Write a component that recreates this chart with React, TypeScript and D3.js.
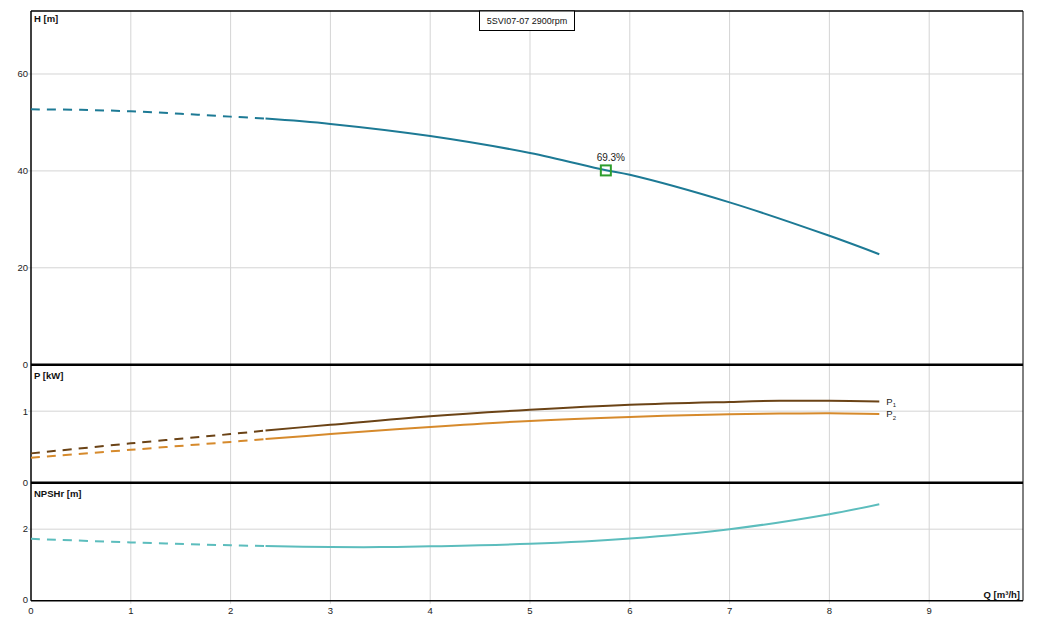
import React from "react";
import * as d3 from "d3";

// ---- data ----
const xTicks = [0, 1, 2, 3, 4, 5, 6, 7, 8, 9];
const hTicks = [0, 20, 40, 60];
const pTicks = [0, 1];
const nTicks = [0, 2];

const qH = [0, 0.5, 1, 1.5, 2, 2.35, 3, 4, 5, 5.75, 6, 7, 8, 8.5];
const headH = [52.7, 52.6, 52.3, 51.8, 51.2, 50.8, 49.7, 47.2, 43.7, 40.2, 39.2, 33.5, 26.6, 22.8];

const qP = [0, 1, 2, 2.35, 3, 4, 5, 6, 7, 7.5, 8, 8.5];
const powerP1 = [0.41, 0.55, 0.68, 0.73, 0.81, 0.93, 1.02, 1.09, 1.13, 1.145, 1.145, 1.135];
const powerP2 = [0.35, 0.46, 0.57, 0.61, 0.68, 0.78, 0.864, 0.92, 0.958, 0.967, 0.972, 0.962];

const qN = [0, 1, 2, 2.35, 3, 3.5, 4, 5, 6, 7, 8, 8.5];
const npshR = [1.73, 1.63, 1.55, 1.53, 1.5, 1.5, 1.52, 1.59, 1.74, 2.0, 2.42, 2.7];

const solidFrom = 2.35;
const titleText = "5SVI07-07 2900rpm";
const bepQ = [5.76];
const bepH = [40.1];
const bepLabel = ["69.3%"];

// ---- layout ----
const W = 1044;
const H = 632;
const left = 31;
const right = 1023;
const top = 11;
const hBottom = 364.7;
const pBottom = 482.7;
const nBottom = 600.7;

const FONT = "'Liberation Sans', Arial, sans-serif";
const GRID = "#d4d4d4";
const C_H = "#1d7a95";
const C_P1 = "#6b4316";
const C_P2 = "#d68a2c";
const C_N = "#5cbdbd";

const x = d3.scaleLinear().domain([0, 9.94]).range([left, right]);
const yH = d3.scaleLinear().domain([0, 73]).range([hBottom, top]);
const yP = d3.scaleLinear().domain([0, 1.65]).range([pBottom, hBottom]);
const yN = d3.scaleLinear().domain([0, 3.3]).range([nBottom, pBottom]);

function split(qs: number[], vs: number[]) {
  const pts = qs.map((q, i) => [q, vs[i]] as [number, number]);
  return {
    dashed: pts.filter((p) => p[0] <= solidFrom),
    solid: pts.filter((p) => p[0] >= solidFrom),
  };
}

function Curve({ qs, vs, y, color }: { qs: number[]; vs: number[]; y: d3.ScaleLinear<number, number>; color: string }) {
  const { dashed, solid } = split(qs, vs);
  const line = d3
    .line<[number, number]>()
    .x((d) => x(d[0]))
    .y((d) => y(d[1]))
    .curve(d3.curveCatmullRom.alpha(0.5));
  return (
    <g fill="none" stroke={color} strokeWidth={2}>
      <path d={line(dashed) || ""} strokeDasharray="9,7" />
      <path d={line(solid) || ""} />
    </g>
  );
}

export default function App() {
  const tickStyle = { fontFamily: FONT, fontSize: 9.5, fill: "#222" } as const;
  const labelStyle = { fontFamily: FONT, fontSize: 9.5, fontWeight: 700, fill: "#111" } as const;
  const lastP = qP.length - 1;
  return (
    <div style={{ position: "absolute", left: 0, top: 0 }}>
      <svg width={W} height={H} style={{ display: "block", background: "#fff" }}>
        {/* vertical grid */}
        {xTicks.filter((t) => t > 0).map((t) => (
          <line key={"vx" + t} x1={x(t)} x2={x(t)} y1={top} y2={nBottom + 3} stroke={GRID} strokeWidth={1} />
        ))}
        {/* horizontal grid */}
        {hTicks.filter((t) => t > 0).map((t) => (
          <line key={"gh" + t} x1={left - 3} x2={right} y1={yH(t)} y2={yH(t)} stroke={GRID} strokeWidth={1} />
        ))}
        {pTicks.filter((t) => t > 0).map((t) => (
          <line key={"gp" + t} x1={left - 3} x2={right} y1={yP(t)} y2={yP(t)} stroke={GRID} strokeWidth={1} />
        ))}
        {nTicks.filter((t) => t > 0).map((t) => (
          <line key={"gn" + t} x1={left - 3} x2={right} y1={yN(t)} y2={yN(t)} stroke={GRID} strokeWidth={1} />
        ))}

        {/* frame */}
        <line x1={left} x2={right} y1={top} y2={top} stroke="#000" strokeWidth={1.5} />
        <line x1={left} x2={left} y1={top} y2={nBottom} stroke="#000" strokeWidth={1.5} />
        <line x1={right} x2={right} y1={top} y2={nBottom} stroke="#000" strokeWidth={1} />
        <line x1={left} x2={right} y1={hBottom} y2={hBottom} stroke="#000" strokeWidth={2.5} />
        <line x1={left} x2={right} y1={pBottom} y2={pBottom} stroke="#000" strokeWidth={2.5} />
        <line x1={left} x2={right} y1={nBottom} y2={nBottom} stroke="#000" strokeWidth={1.5} />

        {/* curves */}
        <Curve qs={qH} vs={headH} y={yH} color={C_H} />
        <Curve qs={qP} vs={powerP1} y={yP} color={C_P1} />
        <Curve qs={qP} vs={powerP2} y={yP} color={C_P2} />
        <Curve qs={qN} vs={npshR} y={yN} color={C_N} />

        {/* best efficiency point */}
        {bepQ.map((q, i) => (
          <g key={"bep" + i}>
            <rect x={x(q) - 5} y={yH(bepH[i]) - 5} width={10} height={10} fill="none" stroke="#2e9e2e" strokeWidth={2} />
            <text x={x(q) + 5} y={yH(bepH[i]) - 9} textAnchor="middle" style={{ fontFamily: FONT, fontSize: 10, fill: "#222" }}>
              {bepLabel[i]}
            </text>
          </g>
        ))}

        {/* P labels */}
        <text x={x(qP[lastP]) + 7} y={yP(powerP1[lastP])} dy="0.35em" style={{ fontFamily: FONT, fontSize: 9.5, fill: "#222" }}>
          P<tspan fontSize={6} dy={2.5}>1</tspan>
        </text>
        <text x={x(qP[lastP]) + 7} y={yP(powerP2[lastP])} dy="0.35em" style={{ fontFamily: FONT, fontSize: 9.5, fill: "#222" }}>
          P<tspan fontSize={6} dy={2.5}>2</tspan>
        </text>

        {/* y tick labels */}
        {hTicks.map((t) => (
          <text key={"th" + t} x={left - 3} y={yH(t)} dy="0.35em" textAnchor="end" style={tickStyle}>{t}</text>
        ))}
        {pTicks.map((t) => (
          <text key={"tp" + t} x={left - 3} y={yP(t)} dy="0.35em" textAnchor="end" style={tickStyle}>{t}</text>
        ))}
        {nTicks.map((t) => (
          <text key={"tn" + t} x={left - 3} y={yN(t) - 1} dy="0.35em" textAnchor="end" style={tickStyle}>{t}</text>
        ))}
        {/* x tick labels */}
        {xTicks.map((t) => (
          <text key={"tx" + t} x={x(t)} y={613.5} textAnchor="middle" style={tickStyle}>{t}</text>
        ))}

        {/* axis titles */}
        <text x={34} y={22} style={labelStyle}>H [m]</text>
        <text x={34} y={379} style={labelStyle}>P [kW]</text>
        <text x={34} y={497} style={labelStyle}>NPSHr [m]</text>
        <text x={1020} y={598} textAnchor="end" style={labelStyle}>Q [m³/h]</text>

        {/* title box */}
        <rect x={479.5} y={top} width={95} height={19.5} fill="#fff" stroke="#000" strokeWidth={1} />
        <text x={527} y={24} textAnchor="middle" style={{ fontFamily: FONT, fontSize: 9, fill: "#111" }}>{titleText}</text>
      </svg>
    </div>
  );
}
